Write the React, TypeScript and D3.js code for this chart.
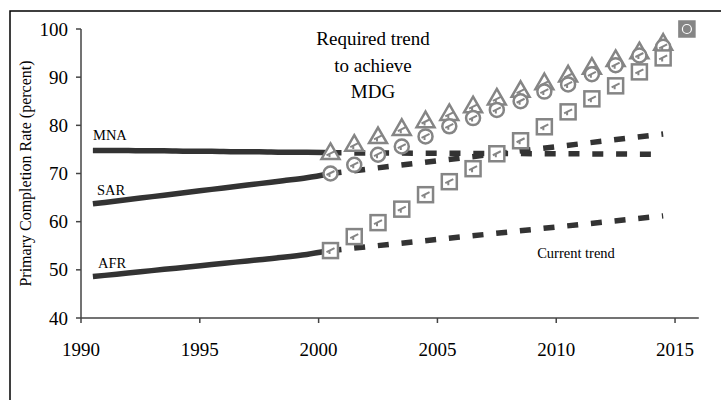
// @ts-nocheck
import React from "react";
import * as d3 from "d3";

// observed completion rates, 1990-2000
const pastYears = [1990, 1991, 1992, 1993, 1994, 1995, 1996, 1997, 1998, 1999, 2000];
const mnaPast = [74.8, 74.8, 74.7, 74.7, 74.6, 74.6, 74.5, 74.5, 74.4, 74.4, 74.3];
const sarPast = [63.7, 64.3, 64.9, 65.5, 66.1, 66.7, 67.3, 67.9, 68.5, 69.1, 70.0];
const afrPast = [48.6, 49.1, 49.6, 50.1, 50.6, 51.1, 51.6, 52.1, 52.6, 53.2, 54.0];

// current trend (start / end)
const trendYears = [2000, 2014];
const mnaTrend = [74.3, 74.0];
const sarTrend = [70.0, 78.2];
const afrTrend = [54.0, 61.2];

// required trend to reach the MDG
const reqYears = [2000, 2001, 2002, 2003, 2004, 2005, 2006, 2007, 2008, 2009, 2010, 2011, 2012, 2013, 2014];
const mnaReq = [74.3, 76.0, 77.6, 79.3, 80.9, 82.4, 84.0, 85.6, 87.2, 88.8, 90.4, 92.0, 93.6, 95.2, 97.0];
const sarReq = [70.0, 71.8, 73.9, 75.6, 77.7, 79.8, 81.5, 83.2, 85.0, 87.0, 88.5, 90.6, 92.5, 94.5, 96.3];
const afrReq = [54.0, 56.9, 59.8, 62.6, 65.6, 68.3, 71.0, 74.1, 76.8, 79.7, 82.8, 85.5, 88.2, 91.1, 94.0];
const target = { year: 2015, value: 100 };

const xTicks = [1990, 1995, 2000, 2005, 2010, 2015];
const yTicks = [40, 50, 60, 70, 80, 90, 100];

export default function App() {
  const width = 721;
  const height = 400;
  const font = '"Liberation Serif", "DejaVu Serif", serif';
  const dark = "#333333";
  const grey = "#858585";

  const x = d3.scaleLinear().domain([1990, 2016]).range([81, 698.8]);
  const y = d3.scaleLinear().domain([40, 100]).range([318, 29]);
  // values sit in the middle of each year
  const px = (yr) => x(yr + 0.5);

  const line = d3
    .line()
    .x((d) => px(d[0]))
    .y((d) => y(d[1]))
    .curve(d3.curveMonotoneX);

  const zip = (a, b) => a.map((v, i) => [v, b[i]]);

  const solid = [mnaPast, sarPast, afrPast];
  const dashed = [mnaTrend, sarTrend, afrTrend];

  const glyph = "M-4,1.5 L4,-2.5 M-1,0 L-1,3.5";

  const tri = d3.symbol().type(d3.symbolTriangle).size(140)();

  return (
    <svg
      width={width}
      height={height}
      style={{ position: "absolute", left: 0, top: 0, background: "#fff", fontFamily: font }}
    >
      <rect x={10} y={11} width={740} height={420} fill="none" stroke="#000" strokeWidth={1.5} />

      {/* axes */}
      <line x1={x(1990)} x2={x(2016)} y1={y(40)} y2={y(40)} stroke="#444" strokeWidth={1.5} />
      <line x1={x(1990)} x2={x(1990)} y1={y(40)} y2={y(100)} stroke="#444" strokeWidth={1.5} />
      {xTicks.map((t) => (
        <g key={t}>
          <line x1={x(t)} x2={x(t)} y1={y(40)} y2={y(40) + 5} stroke="#444" strokeWidth={1.5} />
          <text x={x(t)} y={356} fontSize={19} textAnchor="middle" fill="#000" style={{ fontFamily: font }}>
            {t}
          </text>
        </g>
      ))}
      {yTicks.map((t) => (
        <g key={t}>
          <line x1={x(1990) - 5} x2={x(1990)} y1={y(t)} y2={y(t)} stroke="#444" strokeWidth={1.5} />
          <text x={68} y={y(t) + 6.5} fontSize={19} textAnchor="end" fill="#000" style={{ fontFamily: font }}>
            {t}
          </text>
        </g>
      ))}
      <text
        transform={`translate(31, ${(y(40) + y(100)) / 2}) rotate(-90)`}
        fontSize={16}
        textAnchor="middle"
        fill="#000"
        style={{ fontFamily: font }}
      >
        Primary Completion Rate (percent)
      </text>

      {/* current trend */}
      {dashed.map((s, i) => (
        <path
          key={"d" + i}
          d={d3.line().x((d) => px(d[0])).y((d) => y(d[1]))(zip(trendYears, s))}
          fill="none"
          stroke={dark}
          strokeWidth={5.5}
          strokeDasharray="11,12.8"
        />
      ))}

      {/* observed */}
      {solid.map((s, i) => (
        <path key={"s" + i} d={line(zip(pastYears, s))} fill="none" stroke={dark} strokeWidth={5.5} />
      ))}

      {/* required trend markers */}
      {reqYears.map((yr, i) => (
        <g key={"t" + yr} transform={`translate(${px(yr)},${y(mnaReq[i]) + 1})`}>
          <path d={tri} fill="#fff" stroke={grey} strokeWidth={2.5} />
          <path d={glyph} fill="none" stroke={grey} strokeWidth={2} />
        </g>
      ))}
      {reqYears.map((yr, i) => (
        <g key={"c" + yr} transform={`translate(${px(yr)},${y(sarReq[i])})`}>
          <circle r={7} fill="#fff" stroke={grey} strokeWidth={2.5} />
          <path d={glyph} fill="none" stroke={grey} strokeWidth={2} />
        </g>
      ))}
      {reqYears.map((yr, i) => (
        <g key={"q" + yr} transform={`translate(${px(yr)},${y(afrReq[i])})`}>
          <rect x={-7.5} y={-7.5} width={15} height={15} fill="#fff" stroke={grey} strokeWidth={2.5} />
          <path d={glyph} fill="none" stroke={grey} strokeWidth={2} />
        </g>
      ))}
      <g transform={`translate(${px(target.year)},${y(target.value)})`}>
        <rect x={-8} y={-8} width={16} height={16} fill={grey} stroke={grey} strokeWidth={1.5} />
        <circle r={4.5} fill="none" stroke="#fff" strokeWidth={1.2} />
        <path d="M-1,-3 L1,-1 M-3,2 L3,2" fill="none" stroke={grey} strokeWidth={1.5} />
      </g>

      {/* labels */}
      <g style={{ fontFamily: font }} fill="#000">
        <text x={93} y={140} fontSize={14.5}>MNA</text>
        <text x={97} y={195} fontSize={14.5}>SAR</text>
        <text x={98} y={268} fontSize={14.5}>AFR</text>
        <text x={576} y={258} fontSize={14.5} textAnchor="middle">
          Current trend
        </text>
        <text fontSize={19} textAnchor="middle">
          <tspan x={373} y={45}>Required trend</tspan>
          <tspan x={373} y={72}>to achieve</tspan>
          <tspan x={373} y={98}>MDG</tspan>
        </text>
      </g>
    </svg>
  );
}
